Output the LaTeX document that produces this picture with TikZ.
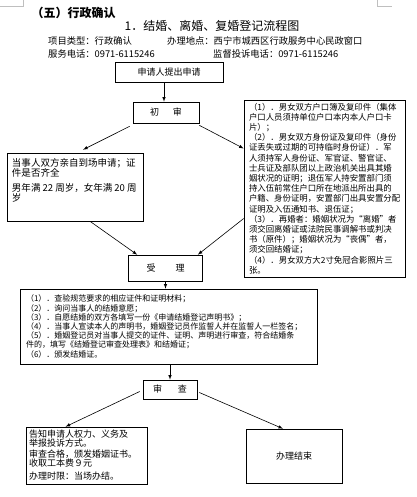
\documentclass[tikz,border=0pt]{standalone}
\usepackage{fontspec}
\setmainfont{Noto Sans CJK SC}
\begin{document}
\begin{tikzpicture}[x=1pt, y=-1pt, >=latex, every node/.style={font=\fontsize{8.4pt}{10.2pt}\selectfont}, b/.style={draw, line width=0.6pt, inner sep=0pt, align=center}, a/.style={->, line width=0.6pt}]
	\useasboundingbox[fill=white] (0,0) rectangle (416,497);
	\draw[gray!50] (0,6) -- (23,6) -- (23,0); \draw[gray!50] (377,0) -- (377,6) -- (392,6);
	% header
	\node[anchor=west, font=\fontsize{12pt}{14pt}\selectfont\bfseries] (part) at (28,13) {（五）行政确认};
	\node[font=\fontsize{12pt}{14pt}\selectfont] (title) at (212,26) {1．结婚、离婚、复婚登记流程图};
	\node[anchor=west, font=\fontsize{9.3pt}{11pt}\selectfont, inner sep=0pt] (kind) at (48,41) {项目类型：行政确认};
	\node[anchor=west, font=\fontsize{9.3pt}{11pt}\selectfont, inner sep=0pt] (place) at (167,41) {办理地点：西宁市城西区行政服务中心民政窗口};
	\node[anchor=west, font=\fontsize{9.3pt}{11pt}\selectfont, inner sep=0pt] (tel) at (48,54) {服务电话：0971-6115246};
	\node[anchor=west, font=\fontsize{9.3pt}{11pt}\selectfont, inner sep=0pt] (complain) at (213,54) {监督投诉电话：0971-6115246};
	% flow boxes
	\node[b, minimum width=108, minimum height=20, font=\fontsize{9pt}{11pt}\selectfont] (apply) at (169,72) {申请人提出申请};
	\node[b, minimum width=66, minimum height=21, font=\fontsize{9pt}{11pt}\selectfont] (first) at (166,112.5) {初\hspace{14pt}审};
	\node[b, minimum width=161, minimum height=177, text width=151, align=left] (docs) at (324.5,188.5) {（1）．男女双方户口簿及复印件（集体\\户口人员须持单位户口本内本人户口卡\\片）；\\（2）．男女双方身份证及复印件（身份\\证丢失或过期的可持临时身份证）．军\\人须持军人身份证、军官证、警官证、\\士兵证及部队团以上政治机关出具其婚\\姻状况的证明；退伍军人持安置部门须\\持入伍前常住户口所在地派出所出具的\\户籍、身份证明，安置部门出具安置分配\\证明及入伍通知书、退伍证；\\（3）．再婚者：婚姻状况为“离婚”者\\须交回离婚证或法院民事调解书或判决\\书（原件）；婚姻状况为“丧偶”者，\\须交回结婚证；\\（4）．男女双方大2寸免冠合影照片三\\张。};
	\node[b, inner sep=5pt] (cond) at (75,187) {\begin{minipage}[t][58pt][t]{126pt}\fontsize{9.5pt}{10pt}\selectfont 当事人双方亲自到场申请；证\\件是否齐全\\[5pt]男年满 22 周岁，女年满 20 周\\岁\end{minipage}};
	\node[b, minimum width=74, minimum height=26, font=\fontsize{9pt}{11pt}\selectfont] (accept) at (165.5,268) {受\hspace{20pt}理};
	\node[b, minimum width=297, minimum height=75, text width=285, align=left, font=\fontsize{8pt}{9.2pt}\selectfont] (tasks) at (168.5,326.5) {（1）．查验规范要求的相应证件和证明材料；\\（2）．询问当事人的结婚意愿；\\（3）．自愿结婚的双方各填写一份《申请结婚登记声明书》；\\（4）．当事人宣读本人的声明书，婚姻登记员作监誓人并在监誓人一栏签名；\\（5）．婚姻登记员对当事人提交的证件、证明、声明进行审查，符合结婚条\\件的，填写《结婚登记审查处理表》和结婚证；\\（6）．颁发结婚证。};
	\node[b, minimum width=54, minimum height=19, font=\fontsize{9pt}{11pt}\selectfont] (check) at (170,389.5) {审\hspace{16pt}查};
	\node[b, inner sep=3pt] (notify) at (86.5,455.5) {\begin{minipage}[t][51pt][t]{115pt}\fontsize{9pt}{9.3pt}\selectfont 告知申请人权力、义务及\\举报投诉方式。\\[1pt]审查合格，颁发婚姻证书。\\收取工本费９元\\[4pt]办理时限：当场办结。\end{minipage}};
	\node[b, minimum width=96, minimum height=54, font=\fontsize{9pt}{11pt}\selectfont] (done) at (294,456) {办理结束};
	% connectors
	\draw[a] ([xshift=-2pt]first.north |- apply.south) -- ([xshift=-2pt]first.north);
	\draw[a] ([shift={(-3pt,-3pt)}]first.south west) -- ([shift={(8pt,3pt)}]cond.north);
	\draw[a] ([yshift=-2pt]first.south east) -- ([yshift=40pt]docs.west);
	\draw[a] ([xshift=15pt]cond.south) -- ([xshift=9pt]accept.north west);
	\draw[a] ([yshift=-30pt]docs.west) -- ([xshift=-5pt]accept.north east);
	\draw[a] (accept.south) -- (accept.south |- tasks.north);
	\draw[a] (check.north |- tasks.south) -- (check.north);
	\draw[a] ([shift={(-3pt,-2pt)}]check.west) -- ([xshift=-21pt]notify.north);
	\draw[a] ([shift={(2pt,-3pt)}]check.east) -- ([xshift=-11pt]done.north);
\end{tikzpicture}
\end{document}
